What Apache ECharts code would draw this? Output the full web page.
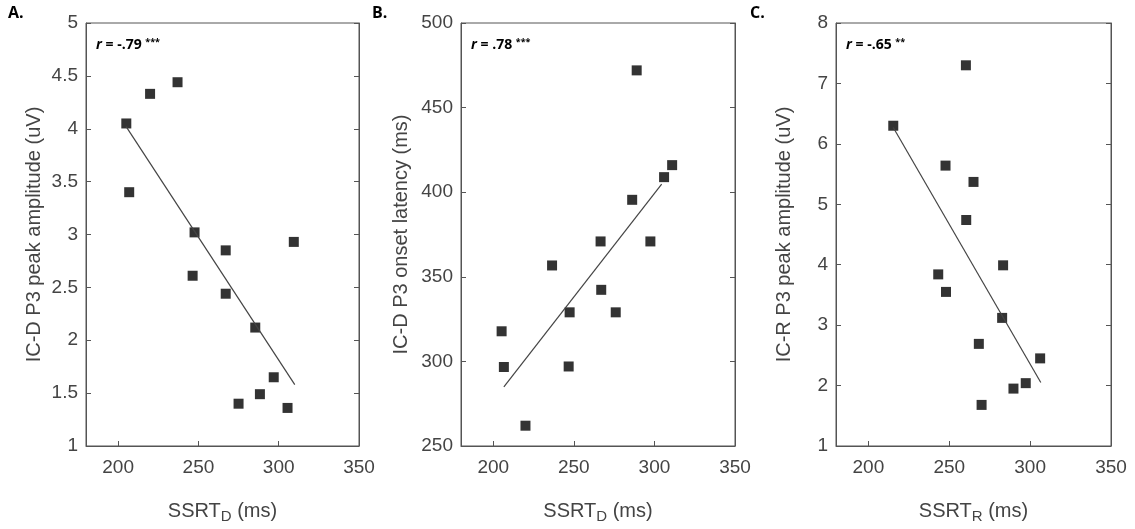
<!DOCTYPE html>
<html><head><meta charset="utf-8">
<script src="https://cdn.jsdelivr.net/npm/echarts@6/dist/echarts.min.js"></script>
<style>html,body{margin:0;padding:0;background:#fff}#c{width:1135px;height:529px}</style>
</head><body><div id="c"></div>
<script>
const xTicks = [200, 250, 300, 350];
const aX = [205.1,206.9,219.9,237,247.6,246.4,267,267,285.4,309.4,296.9,288.3,275,305.5];
const aY = [4.05,3.40,4.33,4.44,3.02,2.61,2.85,2.44,2.12,2.93,1.65,1.49,1.40,1.36];
const aFit = [[205,4.02],[310,1.58]];
const bX = [205.2,206.6,220,236.5,247.4,246.8,266.6,267,276,286.2,297.5,289,306,311];
const bY = [317.8,296.7,262,356.7,329,297,370.9,342.3,329,395.5,370.9,472,408.9,416];
const bFit = [[206.6,285],[304.5,404.8]];
const cX = [215.4,260.3,247.7,265,260.5,243.2,248,283.3,282.7,268.3,270,289.7,297.3,306.2];
const cY = [6.30,7.30,5.64,5.37,4.74,3.84,3.55,3.99,3.12,2.69,1.68,1.95,2.04,2.45];
const cFit = [[215.4,6.27],[306.6,2.05]];
const panels = [
  {label:'A.', r:'-.79', stars:'***', x:aX, y:aY, fit:aFit, ymin:1, ymax:5, yint:0.5, yname:'IC-D P3 peak amplitude (uV)', sub:'D', left:86, width:273},
  {label:'B.', r:'.78', stars:'***', x:bX, y:bY, fit:bFit, ymin:250, ymax:500, yint:50, yname:'IC-D P3 onset latency (ms)', sub:'D', left:461, width:274},
  {label:'C.', r:'-.65', stars:'**', x:cX, y:cY, fit:cFit, ymin:1, ymax:8, yint:1, yname:'IC-R P3 peak amplitude (uV)', sub:'R', left:836, width:275}
];
const grid=[], xAxis=[], yAxis=[], series=[], graphic=[];
const axCol='#555', txt='#444';
panels.forEach((p,i)=>{
  grid.push({left:p.left, top:23, width:p.width, height:423, show:true, borderColor:axCol, borderWidth:1});
  xAxis.push({type:'value', gridIndex:i, min:180, max:350,
    axisLine:{show:true,onZero:false,lineStyle:{color:axCol}},
    axisTick:{show:true,inside:true,length:5,lineStyle:{color:axCol},customValues:xTicks},
    axisLabel:{color:txt,fontSize:19,fontFamily:'Liberation Sans',margin:12,customValues:xTicks},
    splitLine:{show:false},
    name:'{m|SSRT}{s|'+p.sub+'}{m| (ms)}', nameLocation:'middle', nameGap:52,
    nameTextStyle:{rich:{m:{fontSize:20,color:txt,fontFamily:'Liberation Sans'},s:{fontSize:15,color:txt,fontFamily:'Liberation Sans',verticalAlign:'bottom',padding:[11,0,0,0]}}}
  });
  yAxis.push({type:'value', gridIndex:i, min:p.ymin, max:p.ymax, interval:p.yint,
    axisLine:{show:true,onZero:false,lineStyle:{color:axCol}},
    axisTick:{show:true,inside:true,length:5,lineStyle:{color:axCol}},
    axisLabel:{color:txt,fontSize:19,fontFamily:'Liberation Sans',margin:8},
    splitLine:{show:false},
    name:p.yname, nameLocation:'middle', nameGap:p.ymax>100?50:42,
    nameTextStyle:{fontSize:20,color:txt,fontFamily:'Liberation Sans'}
  });
  yAxis.push({type:'value', gridIndex:i, position:'right', min:p.ymin, max:p.ymax, interval:p.yint,
    axisLine:{show:true,lineStyle:{color:axCol}},
    axisTick:{show:true,inside:true,length:5,lineStyle:{color:axCol}},
    axisLabel:{show:false}, splitLine:{show:false}});
  series.push({type:'line', xAxisIndex:i, yAxisIndex:2*i, data:p.fit, symbol:'none',
    lineStyle:{color:'#444',width:1.2}, silent:true});
  series.push({type:'scatter', xAxisIndex:i, yAxisIndex:2*i, symbol:'rect', symbolSize:10,
    itemStyle:{color:'#000'}, data:p.x.map((v,k)=>[v,p.y[k]])});
  graphic.push({type:'text', left:0, top:5, style:{text:p.label, font:'bold 16px "Open Sans"', fill:'#000'}});
  graphic.push({type:'text', left:p.left+10, top:38, style:{
    text:'{i|r}{b| = '+p.r+' }{s|'+p.stars+'}',
    rich:{i:{font:'italic bold 14px "Open Sans"',fill:'#000'},b:{font:'bold 14px "Open Sans"',fill:'#000'},s:{font:'bold 9px "Open Sans"',fill:'#000',verticalAlign:'top',padding:[0,0,6,0]}}}});
});
graphic[0].left = 8; graphic[2].left = 372; graphic[4].left = 750;
const chart = echarts.init(document.getElementById('c'));
chart.setOption({animation:false, grid, xAxis, yAxis, series, graphic});
</script></body></html>
